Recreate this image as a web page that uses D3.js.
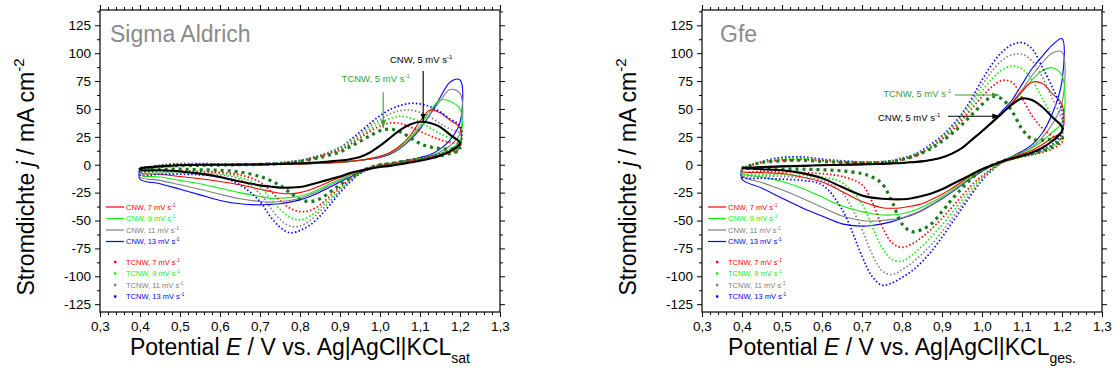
<!DOCTYPE html>
<html>
<head>
<meta charset="utf-8">
<script src="https://cdn.jsdelivr.net/npm/d3@7"></script>
<style>
body{margin:0;background:#fff;}
svg{display:block;font-family:"Liberation Sans",Arial,sans-serif;}
</style>
</head>
<body>
<svg id="chart" width="1117" height="374"></svg>
<script>
// potential grid (V vs. Ag|AgCl), shared by every branch
const potential = [0.40,0.45,0.50,0.55,0.60,0.65,0.70,0.725,0.75,0.775,0.80,0.825,0.85,0.875,0.90,0.925,0.95,0.975,1.00,1.025,1.05,1.075,1.10,1.125,1.15,1.175,1.20];

const xTicks = [0.3,0.4,0.5,0.6,0.7,0.8,0.9,1.0,1.1,1.2,1.3];
const yTicks = [-125,-100,-75,-50,-25,0,25,50,75,100,125];

// ---- Sigma Aldrich: current density (mA cm-2), forward (anodic) and reverse (cathodic) scan
const sa_cnw5_fwd  = [-3,-1.5,-0.5,0,0,0.1,0.3,0.5,0.7,1,1.3,1.7,2.2,3,3.8,5,7,11,17,24,31,36,38.5,37.5,34,27,20];
const sa_cnw5_rev  = [-4.5,-5,-6,-8,-11,-15,-18.5,-19.5,-20.5,-20.5,-20,-18,-15.5,-13,-10.5,-7.5,-5.5,-3.5,-2,-1,0.5,2,3.5,5.5,8,12,19];
const sa_cnw7_fwd  = [-3,-1.5,-0.5,0,0,0,0,0.2,0.4,0.6,0.8,1,1.3,1.7,2.2,3,4,5.5,7.5,11,17,26,39,49,46.5,40,33];
const sa_cnw7_rev  = [-7,-8.5,-10.5,-12.5,-15,-18,-22,-24,-25.5,-26,-25,-22.5,-19,-15,-11.5,-8,-5,-3,-1,0.5,2,3.5,5,7,9,12,17];
const sa_cnw9_fwd  = [-3,-1.5,-0.5,0,0,0,0,0.2,0.4,0.6,0.8,1,1.3,1.7,2.2,3,4,5.5,7.5,10.5,16,24,35,48,58,57,50];
const sa_cnw9_rev  = [-9,-11,-14,-17,-21,-25,-28.5,-30,-30,-29.5,-28,-25.5,-21.5,-17,-13,-9,-5.5,-3,-1,0.5,2,3.5,5.5,7.5,10,14,22];
const sa_cnw11_fwd = [-3,-1.5,-0.5,0,0,0,0,0.2,0.4,0.6,0.8,1,1.3,1.7,2.2,3,4,5.5,7,10,15,23,33,45,57,67.5,64];
const sa_cnw11_rev = [-11,-14,-18,-22,-26.5,-30.5,-33,-33.5,-33,-32,-30,-27,-23,-18.5,-14,-9.5,-6,-3.5,-1.5,0.5,2,4,6,8,11.5,17,28];
const sa_cnw13_fwd = [-3,-1.5,-0.5,0,0,0,0,0.2,0.4,0.6,0.8,1,1.3,1.7,2.2,3,4,5,6.5,9.5,14.5,22,32,45,60,74,76];
const sa_cnw13_rev = [-13,-17,-22,-27,-32,-35,-36,-35.5,-35,-33.5,-31.5,-28.5,-24.5,-20,-15.5,-11,-7,-4,-1.5,0.5,2.5,4.5,6.5,9,14,22,38];
const sa_tcnw5_fwd  = [-3.5,-1.5,-0.8,-0.5,-0.3,0,0.3,0.6,1,1.8,3,4.5,6.5,9,11.5,16,21,26,30.5,32,29.5,24.5,19,16,14.5,14,14.5];
const sa_tcnw5_rev  = [-4,-4,-4,-4.5,-5,-6.5,-10.5,-14,-18.5,-25,-31,-33,-30.5,-24.5,-18,-12,-6.5,-2.5,0,1,2.5,4,5,6.5,8,10,13];
const sa_tcnw7_fwd  = [-3.5,-1,0,0.3,0.3,0.3,0.5,0.8,1.2,2,3.2,5,7.5,10.5,13,18,24,30,34.5,37.5,37,34,30,26,22.5,20,18.5];
const sa_tcnw7_rev  = [-5.5,-5.5,-5.5,-6,-7,-9,-15.5,-23,-32,-39,-42,-41,-36,-28,-20,-12.5,-6.5,-2.5,0,1,2.5,4,5.5,7,8.5,11,14];
const sa_tcnw9_fwd  = [-3.5,-1,0,0.3,0.3,0.3,0.5,0.8,1.2,2,3.4,5.5,8,11,14,19.5,25.5,32,37.5,41.5,43.5,42,38.5,33,28,24,22];
const sa_tcnw9_rev  = [-6.5,-6.5,-6.5,-7,-8,-11,-20,-30,-40,-47,-49.5,-46,-39,-30.5,-21.5,-13.5,-7,-3,0,1,2.5,4,5.5,7,8.5,11,15];
const sa_tcnw11_fwd = [-3.5,-1,0.2,0.5,0.5,0.4,0.6,0.9,1.4,2.3,3.7,5.8,8.5,11.5,15,21,27.5,34.5,40.5,45.5,48.5,49,47,43,37,32,28];
const sa_tcnw11_rev = [-8,-7.5,-7.5,-8,-9,-13,-26,-38,-49,-55,-55,-50,-42,-33,-23,-14.5,-7.5,-3,0,1,2.5,4,5.5,7,9,12,16];
const sa_tcnw13_fwd = [-3.5,-0.5,1,1,0.8,0.6,0.8,1.2,1.8,2.8,4,6,8.5,11.5,15.5,22,29.5,37,44,49.5,53,55,54.5,52,47.5,41,35];
const sa_tcnw13_rev = [-9,-8.5,-8.5,-9,-11,-18,-33,-46,-56,-61,-59,-54,-46,-36,-25,-15.5,-8,-3.5,-0.5,1,2.5,4.5,6,7.5,9.5,12.5,17];

// ---- Gfe
const gfe_cnw5_fwd  = [-3,-2,-1.5,-1,-0.5,0,0.3,0.5,0.8,1.2,1.6,2.2,3,4.5,6.5,10,15,22.5,30,38,46,54,59.5,58,52,43,34];
const gfe_cnw5_rev  = [-3,-4,-5,-7.5,-12,-20,-27.5,-29.5,-30.5,-31,-31,-30,-28,-25.5,-22,-17.5,-13,-8.5,-4,-0.5,3,5.5,8,11,15,21,30];
const gfe_cnw7_fwd  = [-3,-2,-1.5,-1,-0.5,0,0.3,0.5,0.8,1.2,1.6,2.2,3,4.5,6.5,10,15,22.5,30,38,46,55,66,74,73,64,54];
const gfe_cnw7_rev  = [-6,-7,-8,-11,-15.5,-24,-33,-36,-38.5,-39,-38.5,-37,-35,-31,-26.5,-21,-15,-9,-4,0,3.5,6.5,9.5,13,18,24,30];
const gfe_cnw9_fwd  = [-3,-2,-1.5,-1,-0.5,0,0.3,0.5,0.8,1.2,1.6,2.2,3,4.5,6.5,10,15,22.5,30,38,46.5,55,65,76,84,87,80];
const gfe_cnw9_rev  = [-7.5,-11,-15,-21,-29,-37,-42,-44,-45,-45,-44,-41.5,-38,-33.5,-28.5,-22.5,-16.5,-10.5,-5,-0.5,3.5,7,10.5,15,21,29,38];
const gfe_cnw11_fwd = [-3,-2,-1.5,-1,-0.5,0,0.3,0.5,0.8,1.2,1.6,2.2,3,4.5,6.5,10,15,22.5,30,38,47,56,67,80,91,100,101];
const gfe_cnw11_rev = [-10,-16,-22.5,-30,-38,-46,-50,-50.5,-50,-49,-47.5,-44.5,-40.5,-35.5,-30,-24,-17.5,-11,-5.5,-1,3,7,11,16,24,36,55];
const gfe_cnw13_fwd = [-3,-2,-1.5,-1,-0.5,0,0.3,0.5,0.8,1.2,1.6,2.2,3,4.5,6.5,10,15,22.5,30,38,48,58,72,86,97,107,113];
const gfe_cnw13_rev = [-13,-21,-30,-38.5,-46,-53,-55,-54.5,-53,-51,-48,-45,-41,-36,-30.5,-24.5,-18,-11.5,-6,-1,3,7.5,12,18,28,45,75];
const gfe_tcnw5_fwd  = [-3,2,3.5,4,3,2,1.5,1.5,2,3,4.5,7,10.5,15,21,28,36,45,54,61,59,48,32,23,22,23,25];
const gfe_tcnw5_rev  = [-3,-3.5,-4,-4,-4.5,-5.5,-8,-11,-17,-33,-53,-60,-58,-52.5,-42,-31,-21,-12,-5,-0.5,3,6,8,10,12,16,23];
const gfe_tcnw7_fwd  = [-3,2,4,4.5,3.5,2.5,2,2,2.3,3,4.5,7,11,16,23,30.5,40,50.5,61,70,75.5,74,60,44,33,26,22];
const gfe_tcnw7_rev  = [-6,-6,-6.5,-7,-8,-10.5,-18,-33,-55,-70,-74,-71,-65,-57,-48,-38,-28,-18,-10,-3.5,2,5,7,9,11,14,20];
const gfe_tcnw9_fwd  = [-3,2.5,5,5.5,4,2.8,2,2,2.4,3.2,5,7.5,12,17,24,32,42,54,66,77,85,88.5,86,76,60,44,33];
const gfe_tcnw9_rev  = [-8,-8.5,-9,-9.5,-11,-16,-35,-55,-74,-85,-86.5,-81,-73,-64,-54,-43,-32,-21,-11.5,-4,2,5,7.5,9.5,12,16,25];
const gfe_tcnw11_fwd = [-3,2.5,5.5,6,4.5,3,2.2,2.2,2.5,3.2,5.5,8,12.5,18,25,33.5,44,57,71,84,93.5,98.5,99,93,79,60,40];
const gfe_tcnw11_rev = [-9.5,-10,-10.5,-11.5,-14,-25,-58,-80,-95,-98.5,-94,-88,-80,-71,-60,-48,-36,-24,-13,-4.5,2,5,7.5,9.5,12.5,17,27];
const gfe_tcnw13_fwd = [-3,3,6.5,7,5,3.5,2.5,2.5,2.8,3.8,6,8.5,13,19,26,35,46,60,76,90,101,107.5,109.5,104,88,70,48];
const gfe_tcnw13_rev = [-11,-12,-13,-14,-18,-40,-82,-100,-108,-106,-101,-95,-87,-77,-65,-52,-39,-26,-14,-5,2,5.5,8,10,13,18,28];

const RED = "#ff0000", GREEN = "#11ee11", GRAY = "#808080", BLUE = "#0000ff", DKGREEN = "#1b7a1b";

function seriesSet(d) {
  // drawing order: solid, dotted, TCNW 5, CNW 5 on top
  return [
    {color:BLUE,  kind:"solid", fwd:d.cnw13_fwd, rev:d.cnw13_rev},
    {color:GRAY,  kind:"solid", fwd:d.cnw11_fwd, rev:d.cnw11_rev},
    {color:GREEN, kind:"solid", fwd:d.cnw9_fwd,  rev:d.cnw9_rev},
    {color:RED,   kind:"solid", fwd:d.cnw7_fwd,  rev:d.cnw7_rev},
    {color:BLUE,  kind:"dot", fwd:d.tcnw13_fwd, rev:d.tcnw13_rev},
    {color:GRAY,  kind:"dot", fwd:d.tcnw11_fwd, rev:d.tcnw11_rev},
    {color:GREEN, kind:"dot", fwd:d.tcnw9_fwd,  rev:d.tcnw9_rev},
    {color:RED,   kind:"dot", fwd:d.tcnw7_fwd,  rev:d.tcnw7_rev},
    {color:DKGREEN, kind:"tri", fwd:d.tcnw5_fwd, rev:d.tcnw5_rev},
    {color:"#000", kind:"bold", fwd:d.cnw5_fwd, rev:d.cnw5_rev}
  ];
}

const panels = [
  {title:"Sigma Aldrich", sub:"sat", left:100, titleDx:10,
   series: seriesSet({cnw5_fwd:sa_cnw5_fwd,cnw5_rev:sa_cnw5_rev,cnw7_fwd:sa_cnw7_fwd,cnw7_rev:sa_cnw7_rev,
     cnw9_fwd:sa_cnw9_fwd,cnw9_rev:sa_cnw9_rev,cnw11_fwd:sa_cnw11_fwd,cnw11_rev:sa_cnw11_rev,
     cnw13_fwd:sa_cnw13_fwd,cnw13_rev:sa_cnw13_rev,tcnw5_fwd:sa_tcnw5_fwd,tcnw5_rev:sa_tcnw5_rev,
     tcnw7_fwd:sa_tcnw7_fwd,tcnw7_rev:sa_tcnw7_rev,tcnw9_fwd:sa_tcnw9_fwd,tcnw9_rev:sa_tcnw9_rev,
     tcnw11_fwd:sa_tcnw11_fwd,tcnw11_rev:sa_tcnw11_rev,tcnw13_fwd:sa_tcnw13_fwd,tcnw13_rev:sa_tcnw13_rev}),
   // annotations: label start (E, j), arrow tail and head (E, j)
   notes:[
     {text:"CNW, 5 mV s", color:"#000", tx:1.025, ty:91, a:[1.108,84], b:[1.108,39]},
     {text:"TCNW, 5 mV s", color:"#3a9a3a", tx:0.904, ty:74.5, a:[1.008,65], b:[1.008,33]}
   ]},
  {title:"Gfe", sub:"ges.", left:702, titleDx:18,
   series: seriesSet({cnw5_fwd:gfe_cnw5_fwd,cnw5_rev:gfe_cnw5_rev,cnw7_fwd:gfe_cnw7_fwd,cnw7_rev:gfe_cnw7_rev,
     cnw9_fwd:gfe_cnw9_fwd,cnw9_rev:gfe_cnw9_rev,cnw11_fwd:gfe_cnw11_fwd,cnw11_rev:gfe_cnw11_rev,
     cnw13_fwd:gfe_cnw13_fwd,cnw13_rev:gfe_cnw13_rev,tcnw5_fwd:gfe_tcnw5_fwd,tcnw5_rev:gfe_tcnw5_rev,
     tcnw7_fwd:gfe_tcnw7_fwd,tcnw7_rev:gfe_tcnw7_rev,tcnw9_fwd:gfe_tcnw9_fwd,tcnw9_rev:gfe_tcnw9_rev,
     tcnw11_fwd:gfe_tcnw11_fwd,tcnw11_rev:gfe_tcnw11_rev,tcnw13_fwd:gfe_tcnw13_fwd,tcnw13_rev:gfe_tcnw13_rev}),
   notes:[
     {text:"TCNW, 5 mV s", color:"#3a9a3a", tx:0.753, ty:61, a:[0.932,62.5], b:[1.043,62.5]},
     {text:"CNW, 5 mV s", color:"#000", tx:0.740, ty:39.5, a:[0.915,43.5], b:[1.045,43.5]}
   ]}
];

const legendOrder = [
  {name:"CNW, 7 mV s", color:RED, kind:"solid"},
  {name:"CNW, 9 mV s", color:GREEN, kind:"solid"},
  {name:"CNW, 11 mV s", color:GRAY, kind:"solid"},
  {name:"CNW, 13 mV s", color:BLUE, kind:"solid"},
  {name:"TCNW, 7 mV s", color:RED, kind:"dot"},
  {name:"TCNW, 9 mV s", color:GREEN, kind:"dot"},
  {name:"TCNW, 11 mV s", color:GRAY, kind:"dot"},
  {name:"TCNW, 13 mV s", color:BLUE, kind:"dot"}
];
const legendRows = [207, 218.5, 230, 241.5, 262, 273.5, 285, 296.5];

const svg = d3.select("#chart");
const TOP = 10, BOTTOM = 312, W = 400;
const fmt = d => d3.format(".1f")(d).replace(".", ",");

svg.append("defs").append("marker")
  .attr("id","arrowhead").attr("viewBox","0 0 10 10").attr("refX",10).attr("refY",5)
  .attr("markerWidth",7).attr("markerHeight",7).attr("orient","auto-start-reverse")
  .append("path").attr("d","M0,1.5 L10,5 L0,8.5 Z").attr("fill","context-stroke");

panels.forEach(function(p, pi) {
  const x = d3.scaleLinear().domain([0.3, 1.3]).range([p.left, p.left + W]);
  const y = d3.scaleLinear().domain([-132, 138.7]).range([BOTTOM, TOP]);
  const g = svg.append("g");

  g.append("clipPath").attr("id","clip"+pi).append("rect")
    .attr("x",p.left).attr("y",TOP).attr("width",W).attr("height",BOTTOM-TOP);

  // axes: major + minor, mirrored on top/right without labels
  const xMinor = d3.range(0, 51).map(i => 0.3 + i*0.02).filter((v,i) => i % 5 !== 0);
  const yMinor = d3.range(-112.5, 138.7, 25);

  function styleAxis(sel) {
    sel.select(".domain").remove();
    sel.selectAll("line").attr("stroke","#000").attr("stroke-width",1);
    sel.selectAll("text").attr("fill","#000").style("font-size","13.5px").style("font-family","'Liberation Sans',Arial,sans-serif");
  }
  g.append("g").attr("transform",`translate(0,${BOTTOM})`)
    .call(d3.axisBottom(x).tickValues(xTicks).tickFormat(fmt).tickSize(5).tickPadding(4)).call(styleAxis);
  g.append("g").attr("transform",`translate(0,${BOTTOM})`)
    .call(d3.axisBottom(x).tickValues(xMinor).tickFormat("").tickSize(3)).call(styleAxis);
  g.append("g").attr("transform",`translate(0,${TOP})`)
    .call(d3.axisTop(x).tickValues(xTicks).tickFormat("").tickSize(5)).call(styleAxis);
  g.append("g").attr("transform",`translate(0,${TOP})`)
    .call(d3.axisTop(x).tickValues(xMinor).tickFormat("").tickSize(3)).call(styleAxis);
  g.append("g").attr("transform",`translate(${p.left},0)`)
    .call(d3.axisLeft(y).tickValues(yTicks).tickSize(5).tickPadding(4)).call(styleAxis);
  g.append("g").attr("transform",`translate(${p.left},0)`)
    .call(d3.axisLeft(y).tickValues(yMinor).tickFormat("").tickSize(3)).call(styleAxis);
  g.append("g").attr("transform",`translate(${p.left+W},0)`)
    .call(d3.axisRight(y).tickValues(yTicks).tickFormat("").tickSize(5)).call(styleAxis);
  g.append("g").attr("transform",`translate(${p.left+W},0)`)
    .call(d3.axisRight(y).tickValues(yMinor).tickFormat("").tickSize(3)).call(styleAxis);

  // hyphen instead of unicode minus, like the original
  g.selectAll("text").each(function(){ const t = d3.select(this); t.text(t.text().replace("\u2212","-")); });

  // curves: forward scan, reverse scan, closed at 0.4 V
  const line = d3.line().x(d => x(d[0])).y(d => y(d[1])).curve(d3.curveCatmullRom.alpha(0.5));
  const plot = g.append("g").attr("clip-path",`url(#clip${pi})`);
  p.series.forEach(function(s) {
    const fwd = potential.map((e,i) => [e, s.fwd[i]]);
    const rev = potential.map((e,i) => [e, s.rev[i]]).reverse();
    const pts = fwd.concat(rev, [fwd[0]]);
    const path = plot.append("path").attr("d", line(pts)).attr("fill","none").attr("stroke", s.color);
    if (s.kind === "solid") path.attr("stroke-width",1.1);
    if (s.kind === "bold") path.attr("stroke-width",2.1);
    if (s.kind === "dot") path.attr("stroke-width",1.7).attr("stroke-dasharray","1.5 2.2");
    if (s.kind === "tri") path.attr("stroke-width",3.2).attr("stroke-dasharray","3 4");
  });

  // frame
  g.append("rect").attr("x",p.left).attr("y",TOP).attr("width",W).attr("height",BOTTOM-TOP)
    .attr("fill","none").attr("stroke","#000").attr("stroke-width",1.2);

  // panel title
  g.append("text").attr("x",p.left + p.titleDx).attr("y",42)
    .attr("fill","#8a8a8a").style("font-size","23px").text(p.title);

  // annotations
  p.notes.forEach(function(n) {
    const t = g.append("text").attr("x",x(n.tx)).attr("y",y(n.ty)).attr("fill",n.color).style("font-size","9.5px");
    t.append("tspan").text(n.text);
    t.append("tspan").attr("dy",-4).style("font-size","6px").text("-1");
    g.append("line").attr("x1",x(n.a[0])).attr("y1",y(n.a[1])).attr("x2",x(n.b[0])).attr("y2",y(n.b[1]))
      .attr("stroke",n.color).attr("stroke-width",1.1).attr("marker-end","url(#arrowhead)");
  });

  // legend
  legendOrder.forEach(function(l, i) {
    const ly = legendRows[i];
    if (l.kind === "solid") {
      g.append("line").attr("x1",p.left+6).attr("x2",p.left+24).attr("y1",ly).attr("y2",ly)
        .attr("stroke",l.color).attr("stroke-width",1.2);
    } else {
      g.append("rect").attr("x",p.left+14).attr("y",ly-1.2).attr("width",2.4).attr("height",2.4).attr("fill",l.color);
    }
    const t = g.append("text").attr("x",p.left+26).attr("y",ly+2.8).attr("fill",l.color).style("font-size","7.5px");
    t.append("tspan").text(l.name);
    t.append("tspan").attr("dy",-3).style("font-size","5px").text("-1");
  });

  // axis titles
  const yl = g.append("text").attr("transform",`translate(${p.left-66},${177}) rotate(-90)`)
    .attr("text-anchor","middle").attr("fill","#000").style("font-size","23px");
  yl.append("tspan").text("Stromdichte ");
  yl.append("tspan").style("font-style","italic").text("j");
  yl.append("tspan").text(" / mA cm");
  yl.append("tspan").attr("dy",-10).style("font-size","15px").text("-2");

  const xl = g.append("text").attr("x",p.left + W/2).attr("y",355)
    .attr("text-anchor","middle").attr("fill","#000").style("font-size","23px");
  xl.append("tspan").text("Potential ");
  xl.append("tspan").style("font-style","italic").text("E");
  xl.append("tspan").text(" / V vs. Ag|AgCl|KCL");
  xl.append("tspan").attr("dy",8).style("font-size","14px").text(p.sub);
});
</script>
</body>
</html>
